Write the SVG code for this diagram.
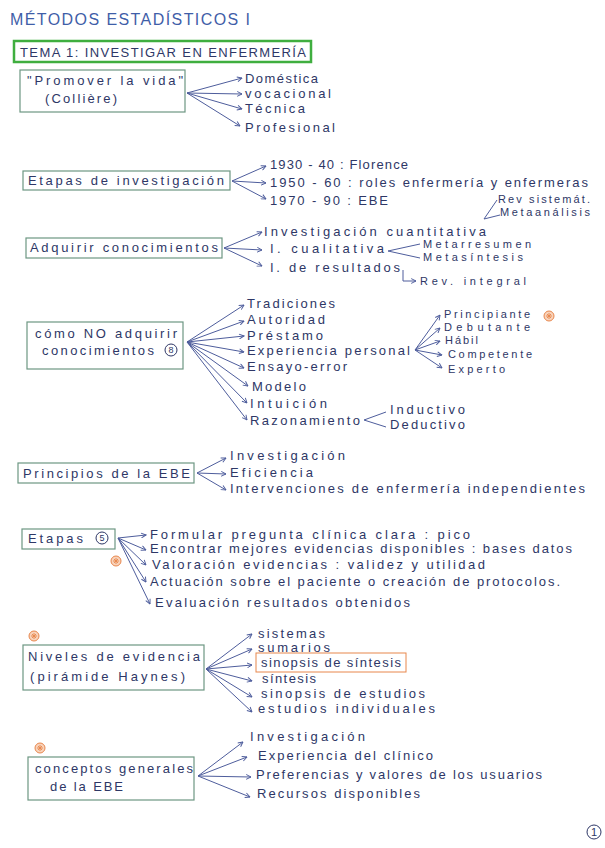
<svg xmlns="http://www.w3.org/2000/svg" width="605" height="848" viewBox="0 0 605 848">
<style>
text{font-family:"Liberation Sans",Arial,sans-serif;font-size:13px;fill:#2e3766}
.sm{font-size:11px}
.xs{font-size:11px}
.title{font-size:16px;fill:#3f5ea8}
.box{fill:none;stroke:#6d9782;stroke-width:1.2}
.c{fill:none;stroke:#4e5d9c;stroke-width:1}
.a{fill:none;stroke:#4e5d9c;stroke-width:1;marker-end:url(#ah)}
.or{fill:#f8d3bb;stroke:#e8874d;stroke-width:1}
.ol{stroke:#e8874d;stroke-width:0.9}
.num{fill:none;stroke:#2e3766;stroke-width:1}
</style>
<defs>
<marker id="ah" viewBox="0 0 10 10" refX="9" refY="5" markerWidth="6" markerHeight="6" orient="auto" markerUnits="userSpaceOnUse">
<path d="M1,1 L9,5 L1,9" fill="none" stroke="#4e5d9c" stroke-width="1.6"/>
</marker>
<g id="star"><circle r="5" class="or"/><path d="M-3,0 H3 M0,-3 V3 M-2,-2 L2,2 M-2,2 L2,-2" class="ol"/></g>
</defs>
<rect width="605" height="848" fill="#ffffff"/>

<g id="title"><text class="title" x="10" y="25" textLength="240" lengthAdjust="spacing">MÉTODOS ESTADÍSTICOS I</text></g>

<g id="tema">
<rect x="14" y="41" width="297" height="21" fill="none" stroke="#3fae3f" stroke-width="2.5"/>
<text x="20" y="57" textLength="286" lengthAdjust="spacing">TEMA 1: INVESTIGAR EN ENFERMERÍA</text>
</g>

<g id="connectors">
<path class="a" d="M187,93 L242,78"/>
<path class="a" d="M187,93 L242,94"/>
<path class="a" d="M187,93 L242,109"/>
<path class="a" d="M187,93 L240,126"/>
<path class="a" d="M232,181 L266,166"/>
<path class="a" d="M232,181 L266,183"/>
<path class="a" d="M232,181 L266,199"/>
<path class="c" d="M497,200 L484,219 L500,215"/>
<path class="a" d="M224,248 L262,232"/>
<path class="a" d="M224,248 L262,250"/>
<path class="a" d="M224,248 L262,266"/>
<path class="c" d="M420,244 L388,251 L420,258"/>
<path class="a" d="M403,270 L403,281 L416,281"/>
<path class="a" d="M187,342 L244,305"/>
<path class="a" d="M187,342 L244,321"/>
<path class="a" d="M187,342 L244,336"/>
<path class="a" d="M187,342 L244,352"/>
<path class="a" d="M187,342 L244,368"/>
<path class="a" d="M187,342 L248,386"/>
<path class="a" d="M187,342 L247,403"/>
<path class="a" d="M187,342 L247,420"/>
<path class="a" d="M415,350 L440,315"/>
<path class="a" d="M415,350 L440,328"/>
<path class="a" d="M415,350 L440,341"/>
<path class="a" d="M415,350 L442,355"/>
<path class="a" d="M415,350 L442,368"/>
<path class="c" d="M386,412 L364,420 L386,427"/>
<path class="a" d="M197,473 L226,458"/>
<path class="a" d="M197,473 L226,474"/>
<path class="a" d="M197,473 L226,490"/>
<path class="a" d="M118,538 L146,535"/>
<path class="a" d="M118,538 L146,550"/>
<path class="a" d="M118,538 L146,565"/>
<path class="a" d="M118,538 L146,582"/>
<path class="a" d="M118,538 L150,604"/>
<path class="a" d="M206,669 L252,634"/>
<path class="a" d="M206,669 L252,649"/>
<path class="a" d="M206,669 L252,665"/>
<path class="a" d="M206,669 L252,681"/>
<path class="a" d="M206,669 L252,697"/>
<path class="a" d="M206,669 L252,712"/>
<path class="a" d="M198,776 L243,742"/>
<path class="a" d="M198,776 L247,757"/>
<path class="a" d="M198,776 L251,777"/>
<path class="a" d="M198,776 L250,797"/>
</g>

<g id="promover">
<rect class="box" x="20" y="70" width="165" height="42"/>
<text x="27" y="85" textLength="156" lengthAdjust="spacing">"Promover la vida"</text>
<text x="45" y="103" textLength="72" lengthAdjust="spacing">(Collière)</text>
</g>
<g id="promover-items">
<text x="245" y="83" textLength="73" lengthAdjust="spacing">Doméstica</text>
<text x="245" y="98" textLength="86" lengthAdjust="spacing">vocacional</text>
<text x="245" y="113" textLength="60" lengthAdjust="spacing">Técnica</text>
<text x="245" y="132" textLength="90" lengthAdjust="spacing">Profesional</text>
</g>

<g id="etapas-inv">
<rect class="box" x="23" y="171" width="207" height="19"/>
<text x="28" y="185" textLength="196" lengthAdjust="spacing">Etapas de investigación</text>
</g>
<g id="etapas-inv-items">
<text x="270" y="169" textLength="138" lengthAdjust="spacing">1930 - 40 : Florence</text>
<text x="270" y="187" textLength="318" lengthAdjust="spacing">1950 - 60 : roles enfermería y enfermeras</text>
<text x="270" y="205" textLength="118" lengthAdjust="spacing">1970 - 90 : EBE</text>
<text class="sm" x="498" y="203" textLength="92" lengthAdjust="spacing">Rev sistemát.</text>
<text class="sm" x="500" y="216" textLength="90" lengthAdjust="spacing">Metaanálisis</text>
</g>

<g id="adquirir">
<rect class="box" x="26" y="238" width="196" height="20"/>
<text x="30" y="252" textLength="188" lengthAdjust="spacing">Adquirir conocimientos</text>
</g>
<g id="adquirir-items">
<text x="264" y="236" textLength="222" lengthAdjust="spacing">Investigación cuantitativa</text>
<text x="270" y="253" textLength="114" lengthAdjust="spacing">I. cualitativa</text>
<text x="270" y="272" textLength="130" lengthAdjust="spacing">I. de resultados</text>
<text class="sm" x="423" y="248" textLength="108" lengthAdjust="spacing">Metarresumen</text>
<text class="sm" x="423" y="261" textLength="100" lengthAdjust="spacing">Metasíntesis</text>
<text class="sm" x="420" y="285" textLength="106" lengthAdjust="spacing">Rev. integral</text>
</g>

<g id="como-no">
<rect class="box" x="27" y="322" width="156" height="47"/>
<text x="35" y="338" textLength="142" lengthAdjust="spacing">cómo NO adquirir</text>
<text x="42" y="355" textLength="112" lengthAdjust="spacing">conocimientos</text>
<circle class="num" cx="171" cy="350" r="6"/>
<text x="171" y="353" text-anchor="middle" style="font-size:9px">8</text>
</g>
<g id="como-no-items">
<text x="247" y="308" textLength="88" lengthAdjust="spacing">Tradiciones</text>
<text x="247" y="324" textLength="78" lengthAdjust="spacing">Autoridad</text>
<text x="247" y="340" textLength="76" lengthAdjust="spacing">Préstamo</text>
<text x="247" y="355" textLength="163" lengthAdjust="spacing">Experiencia personal</text>
<text x="247" y="371" textLength="100" lengthAdjust="spacing">Ensayo-error</text>
<text x="252" y="391" textLength="54" lengthAdjust="spacing">Modelo</text>
<text x="250" y="408" textLength="77" lengthAdjust="spacing">Intuición</text>
<text x="250" y="425" textLength="110" lengthAdjust="spacing">Razonamiento</text>
<text class="xs" x="444" y="318" textLength="86" lengthAdjust="spacing">Principiante</text>
<text class="xs" x="444" y="331" textLength="86" lengthAdjust="spacing">Debutante</text>
<text class="xs" x="445" y="344" textLength="33" lengthAdjust="spacing">Hábil</text>
<text class="xs" x="448" y="358" textLength="84" lengthAdjust="spacing">Competente</text>
<text class="xs" x="448" y="373" textLength="57" lengthAdjust="spacing">Experto</text>
<text x="390" y="414" textLength="75" lengthAdjust="spacing">Inductivo</text>
<text x="390" y="429" textLength="75" lengthAdjust="spacing">Deductivo</text>
<use href="#star" x="549" y="316"/>
</g>

<g id="principios">
<rect class="box" x="18" y="463" width="176" height="20"/>
<text x="23" y="478" textLength="167" lengthAdjust="spacing">Principios de la EBE</text>
</g>
<g id="principios-items">
<text x="230" y="460" textLength="115" lengthAdjust="spacing">Investigación</text>
<text x="230" y="477" textLength="83" lengthAdjust="spacing">Eficiencia</text>
<text x="230" y="493" textLength="355" lengthAdjust="spacing">Intervenciones de enfermería independientes</text>
</g>

<g id="etapas">
<rect class="box" x="22" y="529" width="93" height="20"/>
<text x="28" y="543" textLength="55" lengthAdjust="spacing">Etapas</text>
<circle class="num" cx="102" cy="538" r="6"/>
<text x="102" y="541" text-anchor="middle" style="font-size:9px">5</text>
<use href="#star" x="116" y="561"/>
</g>
<g id="etapas-items">
<text x="150" y="539" textLength="320" lengthAdjust="spacing">Formular pregunta clínica clara : pico</text>
<text x="150" y="553" textLength="422" lengthAdjust="spacing">Encontrar mejores evidencias disponibles : bases datos</text>
<text x="152" y="569" textLength="333" lengthAdjust="spacing">Valoración evidencias : validez y utilidad</text>
<text x="150" y="586" textLength="410" lengthAdjust="spacing">Actuación sobre el paciente o creación de protocolos.</text>
<text x="155" y="607" textLength="255" lengthAdjust="spacing">Evaluación resultados obtenidos</text>
</g>

<g id="niveles">
<use href="#star" x="34" y="636"/>
<rect class="box" x="23" y="645" width="181" height="45"/>
<text x="28" y="661" textLength="172" lengthAdjust="spacing">Niveles de evidencia</text>
<text x="30" y="681" textLength="155" lengthAdjust="spacing">(pirámide Haynes)</text>
</g>
<g id="niveles-items">
<text x="258" y="638" textLength="67" lengthAdjust="spacing">sistemas</text>
<text x="258" y="652" textLength="72" lengthAdjust="spacing">sumarios</text>
<rect x="256" y="653" width="150" height="19" fill="none" stroke="#e8874d" stroke-width="1"/>
<text x="261" y="667" textLength="140" lengthAdjust="spacing">sinopsis de síntesis</text>
<text x="262" y="683" textLength="54" lengthAdjust="spacing">síntesis</text>
<text x="261" y="698" textLength="164" lengthAdjust="spacing">sinopsis de estudios</text>
<text x="258" y="713" textLength="177" lengthAdjust="spacing">estudios individuales</text>
</g>

<g id="conceptos">
<use href="#star" x="40" y="748"/>
<rect class="box" x="28" y="757" width="166" height="43"/>
<text x="35" y="773" textLength="158" lengthAdjust="spacing">conceptos generales</text>
<text x="50" y="791" textLength="73" lengthAdjust="spacing">de la EBE</text>
</g>
<g id="conceptos-items">
<text x="250" y="741" textLength="115" lengthAdjust="spacing">Investigación</text>
<text x="258" y="760" textLength="175" lengthAdjust="spacing">Experiencia del clínico</text>
<text x="256" y="779" textLength="286" lengthAdjust="spacing">Preferencias y valores de los usuarios</text>
<text x="257" y="798" textLength="163" lengthAdjust="spacing">Recursos disponibles</text>
</g>

<g id="page-number">
<circle class="num" cx="594" cy="832" r="7"/>
<text class="sm" x="594" y="836" text-anchor="middle">1</text>
</g>
</svg>
